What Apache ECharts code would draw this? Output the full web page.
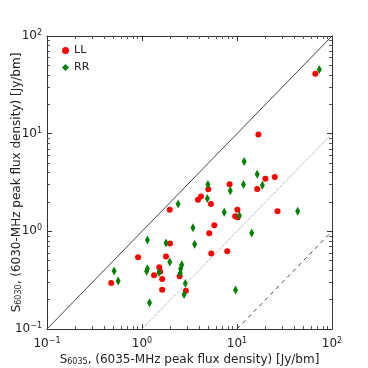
<!DOCTYPE html>
<html>
<head>
<meta charset="utf-8">
<script src="https://cdn.jsdelivr.net/npm/echarts@6/dist/echarts.min.js"></script>
<style>
  html, body { margin: 0; padding: 0; background: #fff; }
  #chart { width: 368px; height: 368px; }
</style>
</head>
<body>
<div id="chart"></div>
<script>
// LL polarisation: S6035 (x) vs S6030 (y), Jy/bm
const llX = [0.474, 0.91, 1.34, 1.52, 1.55, 1.63, 1.63, 1.79, 1.96, 1.97, 2.49, 2.9, 3.88, 4.18, 4.99, 5.32, 5.1, 5.77, 5.36, 7.89, 8.35, 9.57, 10.1, 10.1, 16.3, 16.8, 19.9, 25, 26.7, 66.8];
const llY = [0.296, 0.543, 0.355, 0.43, 0.385, 0.325, 0.253, 0.551, 1.66, 0.75, 0.347, 0.247, 2.1, 2.27, 2.7, 1.9, 0.956, 1.155, 0.592, 0.625, 3.04, 1.43, 1.66, 1.395, 2.72, 9.8, 3.45, 3.61, 1.61, 41.1];
// RR polarisation
const rrX = [0.509, 0.561, 1.14, 1.14, 1.12, 1.2, 1.51, 1.79, 1.96, 2.4, 2.53, 2.55, 2.62, 2.86, 2.77, 3.44, 3.58, 4.87, 4.94, 7.34, 8.5, 9.66, 10.6, 11.7, 11.9, 14.3, 16.3, 18.5, 43.5, 73.6];
const rrY = [0.393, 0.31, 0.817, 0.415, 0.39, 0.186, 0.378, 0.761, 0.486, 1.91, 0.375, 0.415, 0.456, 0.292, 0.226, 1.09, 0.738, 2.17, 3.02, 1.57, 2.6, 0.251, 1.44, 3.02, 5.19, 0.964, 3.85, 2.97, 1.61, 45.5];
// reference lines y = x * ratio
const ratios = [1, 0.1, 0.01];
const axisMin = 0.1, axisMax = 100;

const pairs = (xs, ys) => xs.map((x, i) => [x, ys[i]]);
const refLine = r => [[Math.max(axisMin, axisMin / r), Math.max(axisMin, axisMin * r)], [axisMax, axisMax * r]];

const font = 'DejaVu Sans';
const tickLabel = v => '10{sup|' + String(Math.round(Math.log10(v))).replace('-', '\u2212') + '}';
const labelRich = {
  sup: { fontSize: 8, fontFamily: font, color: '#222', verticalAlign: 'top', padding: [0, 0, 6, 0] }
};
const nameRich = {
  sub: { fontSize: 8, fontFamily: font, color: '#222', padding: [5, 0, 0, 0] }
};

function logAxis(extra) {
  return Object.assign({
    type: 'log',
    logBase: 10,
    min: axisMin,
    max: axisMax,
    axisLine: { show: true, lineStyle: { color: '#333', width: 1 } },
    axisTick: { show: true, inside: true, length: 5, lineStyle: { color: '#333' } },
    minorTick: { show: true, splitNumber: 9, length: 3, lineStyle: { color: '#555' } },
    splitLine: { show: false },
    axisLabel: {
      show: true, fontFamily: font, fontSize: 12, color: '#222',
      formatter: tickLabel, rich: labelRich
    }
  }, extra);
}

const chart = echarts.init(document.getElementById('chart'));
chart.setOption({
  animation: false,
  backgroundColor: '#fff',
  grid: { left: 47, right: 36, top: 36, bottom: 39, outerBoundsMode: 'none', containLabel: false },
  legend: {
    orient: 'vertical',
    left: 57,
    top: 40,
    itemGap: 6,
    itemWidth: 7,
    itemHeight: 7,
    textStyle: { fontFamily: font, fontSize: 11, color: '#222' },
    data: [
      { name: 'LL', icon: 'circle' },
      { name: 'RR', icon: 'diamond' }
    ]
  },
  xAxis: [
    logAxis({
      position: 'bottom',
      name: 'S{sub|6035}, (6035-MHz peak flux density) [Jy/bm]',
      nameLocation: 'middle',
      nameGap: 24,
      nameMoveOverlap: false,
      nameTextStyle: { fontFamily: font, fontSize: 12, color: '#222', rich: nameRich },
      axisLabel: { show: true, fontFamily: font, fontSize: 12, color: '#222', margin: 8, formatter: tickLabel, rich: labelRich }
    }),
    logAxis({ position: 'top', axisLabel: { show: false } })
  ],
  yAxis: [
    logAxis({
      position: 'left',
      name: 'S{sub|6030}, (6030-MHz peak flux density) [Jy/bm]',
      nameLocation: 'middle',
      nameGap: 24,
      nameMoveOverlap: false,
      nameTextStyle: { fontFamily: font, fontSize: 12, color: '#222', rich: nameRich, verticalAlign: 'bottom' },
      axisLabel: { show: true, fontFamily: font, fontSize: 12, color: '#222', margin: 5, formatter: tickLabel, rich: labelRich }
    }),
    logAxis({ position: 'right', axisLabel: { show: false } })
  ],
  series: [
    {
      type: 'line', data: refLine(ratios[0]), symbol: 'none', silent: true,
      lineStyle: { color: '#444', width: 1 }
    },
    {
      type: 'line', data: refLine(ratios[1]), symbol: 'none', silent: true,
      lineStyle: { color: '#999', width: 1, type: 'dotted' }
    },
    {
      type: 'line', data: refLine(ratios[2]), symbol: 'none', silent: true,
      lineStyle: { color: '#444', width: 1, type: [4, 4] }
    },
    {
      name: 'LL', type: 'scatter', data: pairs(llX, llY),
      symbol: 'circle', symbolSize: 6,
      itemStyle: { color: '#ff0000', opacity: 1 }
    },
    {
      name: 'RR', type: 'scatter', data: pairs(rrX, rrY),
      symbol: 'diamond', symbolSize: [5, 9],
      itemStyle: { color: '#008000', opacity: 1 }
    }
  ]
});
</script>
</body>
</html>
